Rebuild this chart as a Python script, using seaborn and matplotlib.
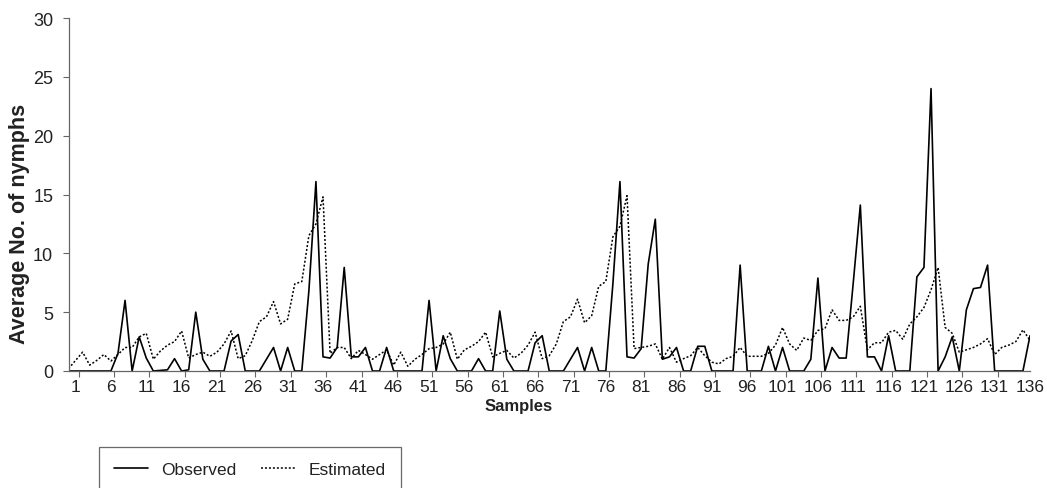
import matplotlib
matplotlib.use('Agg')
import matplotlib.pyplot as plt
import seaborn as sns

# sample index 0..136 (label "k" sits on index k)
samples = list(range(137))

observed = [
    0, 0, 0, 0, 0, 0, 0, 1.5, 6.0, 0,
    2.9, 1.1, 0, 0.05, 0.1, 1.05, 0, 0.1, 5.0, 1.0,
    0, 0, 0, 2.55, 3.1, 0, 0, 0, 1.0, 2.0,
    0, 2.0, 0, 0, 6.8, 16.1, 1.2, 1.1, 2.0, 8.8,
    1.2, 1.2, 2.0, 0, 0, 2.0, 0, 0, 0, 0,
    0, 6.0, 0, 3.0, 1.05, 0, 0, 0, 1.05, 0,
    0, 5.1, 1.0, 0, 0, 0, 2.4, 3.0, 0, 0,
    0, 1.0, 2.0, 0, 2.0, 0, 0, 7.4, 16.1, 1.2,
    1.1, 1.9, 9.1, 12.9, 1.0, 1.2, 2.0, 0, 0, 2.1,
    2.1, 0, 0, 0, 0, 9.0, 0, 0, 0, 2.1,
    0, 2.0, 0, 0, 0, 1.0, 7.9, 0, 2.0, 1.1,
    1.1, 7.5, 14.1, 1.2, 1.2, 0, 3.0, 0, 0, 0,
    8.0, 8.8, 24.0, 0, 1.2, 2.9, 0, 5.2, 7.0, 7.1,
    9.0, 0, 0, 0, 0, 0, 3.0]

estimated = [
    0.2, 0.9, 1.6, 0.5, 0.9, 1.4, 0.85, 1.4, 2.0, 2.0,
    2.9, 3.2, 1.0, 1.7, 2.2, 2.5, 3.4, 1.1, 1.4, 1.6,
    1.25, 1.6, 2.3, 3.4, 1.05, 1.3, 2.6, 4.2, 4.6, 5.9,
    4.0, 4.4, 7.4, 7.6, 11.5, 12.5, 14.8, 1.5, 2.0, 2.0,
    1.05, 1.75, 1.4, 1.0, 1.4, 1.8, 0.5, 1.6, 0.4, 1.0,
    1.4, 1.9, 2.0, 2.3, 3.3, 1.0, 1.8, 2.1, 2.5, 3.3,
    1.2, 1.5, 1.75, 1.1, 1.5, 2.2, 3.3, 1.05, 1.3, 2.3,
    4.2, 4.6, 6.1, 4.1, 4.7, 7.2, 7.6, 11.4, 12.3, 14.9,
    1.9, 2.0, 2.1, 2.3, 1.0, 2.0, 0.75, 1.05, 1.3, 2.0,
    1.3, 0.75, 0.6, 1.05, 1.25, 2.0, 1.25, 1.25, 1.25, 1.5,
    2.2, 3.7, 2.3, 1.75, 2.8, 2.6, 3.45, 3.6, 5.2, 4.3,
    4.3, 4.6, 5.5, 1.8, 2.4, 2.4, 3.3, 3.45, 2.7, 4.0,
    4.6, 5.4, 6.9, 8.8, 3.7, 3.2, 1.6, 1.8, 2.0, 2.3,
    2.75, 1.4, 2.0, 2.2, 2.5, 3.5, 2.6]

tick_labels = list(range(1, 137, 5))
y_ticks = [0, 5, 10, 15, 20, 25, 30]

sns.set_style("white")
plt.rcParams['font.family'] = ['Liberation Sans', 'DejaVu Sans']

fig = plt.figure(figsize=(10.47, 4.89), dpi=100)
ax = fig.add_axes([68.5 / 1047, 1 - 372 / 489, (1030 - 68.5) / 1047, (372 - 19) / 489])

sns.lineplot(x=samples, y=observed, color='black', lw=1.2, label='Observed', ax=ax)
sns.lineplot(x=samples, y=estimated, color='black', lw=1.1, linestyle=(0, (1.3, 1.3)),
             label='Estimated', ax=ax)

ax.set_xlim(0, 136)
ax.set_ylim(0, 30)
ax.set_yticks(y_ticks)
ax.set_xticks(tick_labels)
ax.set_xticklabels([str(t) for t in tick_labels])
# tick marks sit between samples, labels on the samples
ax.set_xticks([t + 0.45 for t in tick_labels[:-1]], minor=True)
ax.tick_params(axis='x', which='major', length=0, pad=6, labelsize=12.5, colors='#222222')
ax.tick_params(axis='x', which='minor', length=4, width=0.8, color='#666666', direction='out', bottom=True)
ax.tick_params(axis='y', length=4, width=0.8, color='#666666', direction='out', pad=7,
               labelsize=13, labelcolor='#222222', left=True)
ax.set_xlabel('')
ax.set_ylabel('')
sns.despine(ax=ax)
for side in ['left', 'bottom']:
    ax.spines[side].set_color('#666666')
    ax.spines[side].set_linewidth(0.9)

fig.text(20 / 1047, 1 - 224 / 489, 'Average No. of nymphs', rotation=90, ha='center', va='center',
         fontsize=15.5, fontweight='bold', color='#222222')
fig.text(519 / 1047, 1 - 406 / 489, 'Samples', ha='center', va='center',
         fontsize=12, fontweight='bold', color='#222222')

handles, labels = ax.get_legend_handles_labels()
ax.get_legend().remove()
leg = fig.legend(handles, labels, loc='center left', bbox_to_anchor=(99 / 1047, 1 - 470 / 489),
                 ncol=2, frameon=True, fancybox=False, fontsize=12.5, borderaxespad=0,
                 borderpad=0.85, handlelength=2.0, handletextpad=0.75, columnspacing=1.4)
leg.get_frame().set_edgecolor('#444444')
leg.get_frame().set_linewidth(0.9)
for t in leg.get_texts():
    t.set_color('#222222')

fig.savefig('out.png', dpi=100)
